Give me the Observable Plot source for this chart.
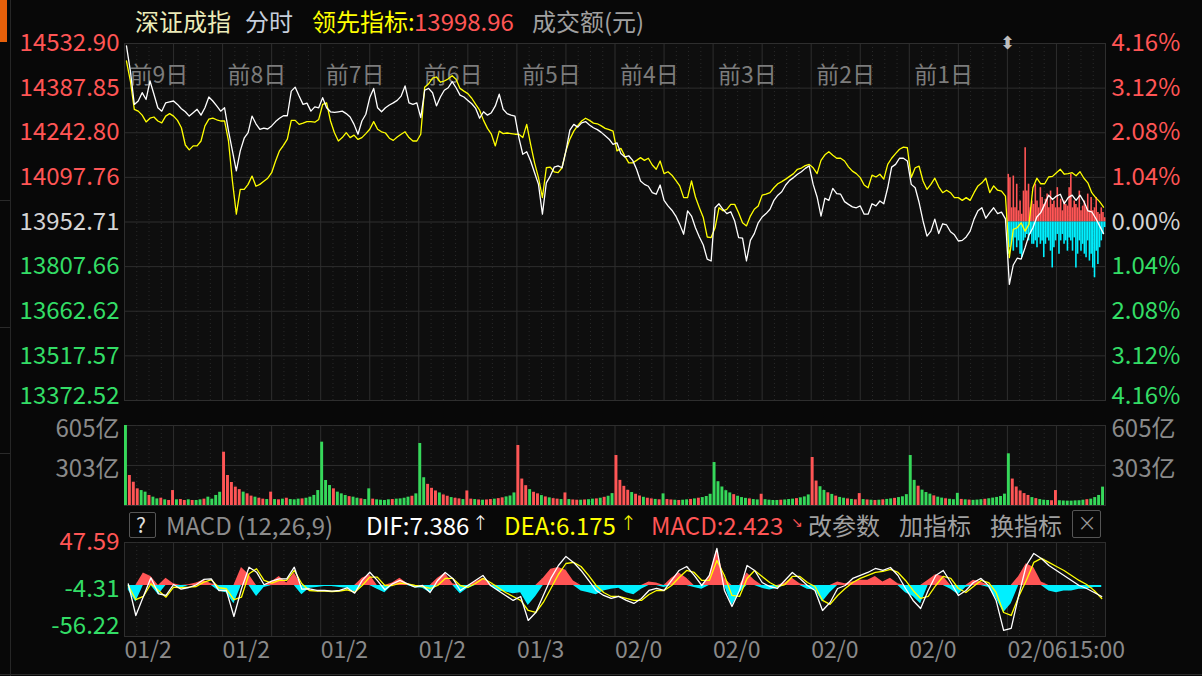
<!DOCTYPE html>
<html><head><meta charset="utf-8">
<script src="https://cdn.jsdelivr.net/npm/d3@7"></script>
<script src="https://cdn.jsdelivr.net/npm/@observablehq/plot@0.6"></script>
<style>
body{margin:0;background:#080808;}
#root{position:relative;width:1202px;height:676px;overflow:hidden;background:#080808;font-family:"Noto Sans CJK SC","Noto Sans",sans-serif;}
.t{position:absolute;white-space:nowrap;font-size:24px;line-height:1;}
.p{position:absolute;top:0;left:0;}
.d{position:absolute;}
</style></head><body><div id="root"></div>
<script>
// ---------- DATA ----------
const priceTicks = [14532.90, 14387.85, 14242.80, 14097.76, 13952.71, 13807.66, 13662.62, 13517.57, 13372.52];
const priceLabels = ["14532.90","14387.85","14242.80","14097.76","13952.71","13807.66","13662.62","13517.57","13372.52"];
const pctLabels = ["4.16%","3.12%","2.08%","1.04%","0.00%","1.04%","2.08%","3.12%","4.16%"];
const basePrice = 13952.71;
const dayNames = ["前9日","前8日","前7日","前6日","前5日","前4日","前3日","前2日","前1日"];
const dateLabels = ["01/2","01/2","01/2","01/2","01/3","02/0","02/0","02/0","02/0","02/0615:00"];
const volTicks = [605, 303];
const volLabels = ["605亿","303亿"];
const macdTicks = [47.59, -4.31, -56.22];
const macdLabels = ["47.59","-4.31","-56.22"];

// index price (white), 25 samples per day
const whiteLine = [
 14525,14443,14335,14346,14373,14351,14411,14368,14324,14313,14340,14343,14346,14335,14321,14311,14297,14308,14319,14300,14324,14359,14346,14330,14313,
 14324,14249,14184,14119,14184,14225,14243,14297,14272,14254,14258,14255,14265,14279,14290,14298,14298,14378,14391,14362,14335,14339,14313,14327,14324,
 14357,14324,14311,14309,14311,14313,14305,14294,14270,14238,14281,14303,14357,14387,14324,14311,14324,14333,14340,14348,14362,14395,14340,14335,14340,
 14292,14381,14387,14373,14330,14359,14381,14389,14409,14389,14365,14359,14348,14337,14322,14290,14311,14300,14308,14330,14368,14319,14305,14300,14297,
 14227,14173,14181,14151,14113,14075,13978,14080,14102,14131,14135,14129,14184,14251,14270,14261,14275,14279,14268,14259,14253,14244,14233,14222,14205,
 14210,14175,14164,14168,14153,14124,14086,14075,14069,14048,14043,14073,14023,14005,13991,13972,13945,13913,13989,13972,13934,13904,13878,13832,13826,
 13999,14012,13994,13980,13986,13956,13902,13900,13826,13893,13915,13950,13969,13980,13994,14023,14040,14051,14073,14088,14097,14108,14116,14127,14135,
 14075,14034,13972,14030,14023,14062,14045,14043,14019,14010,14002,13999,14005,13978,13978,14012,14005,14021,14012,14064,14131,14140,14160,14160,14151,
 14075,14064,14016,13956,13907,13923,13962,13915,13947,13943,13921,13911,13891,13893,13904,13923,13962,13989,13999,13965,13983,13999,13980,13985,13963,
 13750,13813,13835,13832,13869,13910,13934,13969,13983,14010,14040,14026,14037,14043,14012,14032,14040,14023,14040,14019,13989,13986,13965,13940,13915
];
// leading indicator (yellow)
const yellowLine = [
 14476,14411,14319,14313,14300,14278,14290,14294,14281,14275,14297,14305,14297,14283,14259,14203,14187,14200,14200,14216,14265,14287,14290,14285,14281,
 14281,14216,14086,13978,14059,14059,14075,14102,14069,14075,14085,14095,14113,14151,14184,14202,14222,14283,14283,14270,14274,14279,14279,14277,14286,
 14335,14340,14281,14243,14216,14227,14243,14227,14235,14221,14227,14240,14254,14279,14254,14246,14242,14225,14218,14229,14238,14246,14227,14216,14216,
 14238,14391,14402,14420,14424,14407,14411,14418,14428,14417,14387,14378,14370,14355,14335,14316,14283,14257,14238,14200,14248,14240,14242,14240,14238,
 14238,14227,14270,14205,14145,14097,14032,14129,14131,14116,14113,14129,14184,14222,14248,14266,14281,14290,14283,14274,14272,14265,14257,14253,14248,
 14184,14192,14167,14145,14145,14153,14162,14153,14160,14138,14124,14151,14110,14116,14105,14088,14070,14032,14032,14086,14034,13999,13967,13904,13902,
 13934,13999,13989,13994,14010,14010,13983,13950,13940,13972,13994,14005,14040,14043,14048,14064,14077,14084,14092,14101,14110,14124,14128,14136,14140,
 14129,14110,14153,14171,14181,14170,14160,14160,14151,14132,14118,14110,14097,14073,14064,14105,14099,14108,14092,14140,14160,14175,14189,14196,14194,
 14097,14129,14134,14086,14059,14075,14095,14067,14048,14056,14048,14032,14032,14023,14032,14023,14048,14070,14080,14095,14048,14070,14056,14053,14037,
 13837,13929,13934,13950,13923,13945,14064,14095,14077,14077,14099,14101,14113,14124,14108,14110,14113,14103,14116,14095,14080,14048,14032,14019,14001
];
// today's buy (red, up) and sell (cyan, down) strength bars, in % of the axis
const buyBars = [1.11,1.03,0.33,1.07,0.33,0.88,0.26,0.49,0.18,0.72,1.73,0.72,0.88,0.33,0.49,0.41,0.88,0.49,0.33,0.80,0.57,0.41,0.53,0.65,0.33,0.72,0.41,0.49,0.33,0.80,0.33,0.53,0.26,0.49,0.41,0.37,0.80,1.11,0.33,0.49,0.41,0.33,0.72,0.26,0.37,0.49,0.33,0.65,0.26,0.57,0.26,0.33,0.57,0.22,0.18,0.33,0.22,0.10];
const sellBars = [0.75,0.60,0.44,0.68,0.37,0.60,0.44,0.75,0.83,0.44,0.37,0.29,0.44,0.29,0.52,0.52,0.44,0.60,0.37,0.52,0.44,0.83,0.52,0.37,0.44,0.68,1.07,0.60,0.44,0.29,0.75,0.44,0.29,0.52,0.44,0.68,0.37,0.44,0.68,0.37,1.07,0.75,0.44,0.68,0.52,0.75,0.83,0.44,0.91,0.75,1.07,1.30,0.68,0.99,0.60,0.44,0.29,0.13];

// turnover (亿), 25 bars per day
const volume = [
 605,227,176,126,113,101,76,63,50,55,43,38,113,43,45,38,43,38,38,43,48,63,48,76,100,
 403,227,174,139,120,101,88,71,63,55,48,45,101,45,43,48,55,45,43,48,50,55,63,76,113,
 479,189,151,126,101,88,76,67,63,55,50,45,126,48,43,40,38,43,45,48,50,55,63,70,88,
 469,210,160,130,110,95,80,70,60,55,50,45,110,48,45,42,40,42,45,48,52,58,65,72,95,
 454,200,150,120,100,88,75,65,58,52,48,45,95,45,42,40,40,42,44,48,50,55,62,70,90,
 378,190,145,115,98,85,72,62,55,50,46,43,88,45,42,40,38,40,43,46,50,55,60,68,85,
 325,180,140,112,95,82,70,60,54,50,45,42,85,44,40,38,38,40,42,45,48,52,58,65,80,
 363,185,142,114,96,84,71,61,55,50,46,43,90,45,42,40,38,40,43,46,50,54,60,66,82,
 378,190,146,116,98,86,73,63,56,51,47,44,92,46,43,41,39,41,44,47,51,56,61,68,86,
 391,200,140,110,90,76,60,52,45,40,38,36,113,36,34,33,33,35,36,40,44,48,60,76,139
];
const volColors = [
 "grrrggrggrgrrgrrgrggrgggg","rrrrrgrrgrrgrgrgrgggrgggg","gggrgggrggrggrggggrggggrg",
 "ggrrrgrrgrrgrrgrgrrgrrggg","rrrgrrgrgrrgrgrrgrggrgrgg","rrrrgrrgrrgrgrrgrggrgrggg",
 "gggggrgggrggrggggrgggrggg","rrggrgrggrgrrgrgrgrggrggg","ggrgggrggrgggrgrgggrggggg",
 "grrrrrgrgggrrgggggggrgggg"
];

// MACD: 13 samples per day
const dif = [
 1.8,-33.0,-12.0,8.6,-9.0,-10.9,1.2,-4.0,-2.1,0.9,6.8,7.5,-5.4,
 -5.4,-34.1,-3.5,20.3,14.8,0.9,4.9,7.5,7.5,20.3,-4.0,-3.5,-5.4,
 -5.4,-6.2,-5.4,-2.4,-8.3,5.7,14.8,5.7,-4.6,2.0,5.7,2.0,-1.8,
 0.1,-7.6,5.7,14.5,7.9,-5.4,0.1,5.7,11.2,0.1,-5.4,-10.9,-16.4,
 -12.0,-38.5,-29.7,-10.9,7.9,22.2,32.2,25.6,16.7,5.7,-5.4,-10.9,-14.2,
 -12.0,-16.4,-19.7,-14.2,-5.4,-3.2,-5.4,5.7,16.7,21.1,11.2,0.1,11.2,
 41.0,-5.4,-23.1,-5.4,22.2,16.7,3.4,-1.0,-3.2,5.7,14.5,7.9,0.1,
 -5.4,-27.5,-18.6,-3.2,0.1,7.9,11.2,14.5,18.9,16.7,20.0,11.2,-3.2,
 -16.4,-25.3,-5.4,11.2,16.7,3.4,-10.9,-5.4,3.4,7.9,0.1,-16.4,-49.5,
 -47.3,-10.9,22.2,35.5,30.0,22.2,16.7,11.2,5.7,0.1,-3.2,-7.6,-12.0
];
const dea = [
 0.1,-15.6,-12.0,2.0,-5.4,-12.8,-1.8,-2.4,-1.8,-1.0,3.8,6.4,-2.4,
 -3.5,-15.6,-12.8,13.0,18.6,5.7,2.7,5.7,5.7,16.7,2.0,-5.4,-6.2,
 -6.2,-6.5,-6.2,-4.6,-7.3,0.1,9.3,9.3,0.1,0.1,2.7,2.0,0.1,
 -1.0,-3.2,0.1,7.9,7.9,0.1,-2.1,2.3,7.9,3.4,-2.1,-7.6,-12.0,
 -16.4,-27.5,-29.7,-18.6,-3.2,12.3,24.4,25.6,21.1,11.2,0.1,-7.6,-12.0,
 -12.0,-14.2,-16.4,-16.4,-9.8,-5.4,-5.4,0.1,9.0,16.7,14.5,5.7,5.7,
 27.7,11.2,-10.9,-12.0,7.9,16.7,10.1,3.4,-1.0,1.2,10.1,10.1,3.4,
 -1.0,-16.4,-20.8,-10.9,-3.2,3.4,7.9,11.2,14.5,15.6,17.8,14.5,5.7,
 -5.4,-14.2,-12.0,0.1,10.1,7.9,-3.2,-7.6,-1.0,5.7,3.4,-7.6,-29.7,
 -33.0,-12.0,5.7,25.6,30.0,25.6,21.1,16.7,11.2,5.7,1.2,-5.4,-14.2
];
const macdHist = [
 -5,-18,14,10,-10,8,2,-3,1,3,6,2,-6,
 -8,-20,20,12,-12,-2,4,10,3,14,-10,-3,-2,
 -1,-1,-2,-3,-7,8,12,-4,-8,3,8,2,-2,
 -3,-8,8,14,2,-9,-3,4,8,1,-6,-7,-9,
 -8,-22,-12,8,18,20,17,5,-6,-8,-10,-6,-4,
 -3,-8,-10,-4,4,3,-2,8,14,8,-2,-4,10,
 40,8,-22,-8,14,6,-3,-5,-3,3,8,2,-4,
 -5,-18,-8,4,2,4,6,6,10,4,8,2,-8,
 -12,-20,6,12,10,-4,-10,-2,6,4,-2,-14,-30,
 -20,10,24,20,4,-6,-8,-6,-6,-4,-4,-2,-2
];

// ---------- STYLE ----------
const FONT = '"Noto Sans CJK SC","Noto Sans",sans-serif';
const RED = "#ff5555", GREEN = "#33dd66", VGREEN = "#36d85a", CYAN = "#00f0ff", GRID = "#2e2e2e", GRAY = "#8a8a8a";
const BG = "#0e0e0e";
const FS = 24;

// ---------- TABLES ----------
const N = 25;
const linePts = whiteLine.map((w, i) => ({x: Math.floor(i / N) + ((i % N) + 0.5) / N, white: w, yellow: yellowLine[i]}));
const volPts = volume.map((v, i) => {
  const d = Math.floor(i / N), k = i % N;
  return {x1: d + k / N, x2: d + (k + 1) / N, v, c: (volColors[d][k] || "g") === "r" ? RED : VGREEN};
});
const buyPts = buyBars.map((h, i) => ({x: 9 + (i + 0.5) / buyBars.length, y2: basePrice * (1 + h / 100)}));
const sellPts = sellBars.map((h, i) => ({x: 9 + (i + 0.5) / sellBars.length, y2: basePrice * (1 - h / 100)}));
const M = 13;
const macdPts = dif.map((v, i) => ({x: Math.floor(i / M) + ((i % M) + 0.5) / M, dif: v, dea: dea[i], h: macdHist[i]}));

const halfDays = d3.range(0, 10.01, 0.5);
const minor = [];
for (let d = 0; d < 10; d++) for (const j of [1, 2, 3, 5, 6, 7]) minor.push(d + j / 8);
const grid = () => [
  Plot.ruleX(minor, {stroke: "#2a2a2a", strokeDasharray: "1,3"}),
  Plot.ruleX(halfDays, {stroke: GRID})
];
const common = {
  width: 1202, marginLeft: 124, marginRight: 97,
  x: {domain: [0, 10], axis: null},
  style: {background: "transparent", fontFamily: FONT, overflow: "visible"}
};
const tickColor = i => i < 4 ? RED : i === 4 ? "#d4d4d4" : GREEN;

// ---------- MAIN PRICE PANEL ----------
const main = Plot.plot({
  ...common, height: 412, marginTop: 43, marginBottom: 12,
  y: {domain: [priceTicks[8], priceTicks[0]], axis: null},
  marks: [
    Plot.frame({fill: BG, stroke: GRID}),
    ...grid(),
    Plot.ruleY(priceTicks, {stroke: GRID}),
    Plot.text(dayNames, {x: (d, i) => i, frameAnchor: "top", dy: 23, dx: 5, textAnchor: "start", fill: "#7c7c7c", fontSize: 23}),
    Plot.ruleX(buyPts, {x: "x", y1: basePrice, y2: "y2", stroke: RED, strokeWidth: 1.6}),
    Plot.ruleX(sellPts, {x: "x", y1: basePrice, y2: "y2", stroke: CYAN, strokeWidth: 1.6}),
    Plot.line(linePts, {x: "x", y: "yellow", stroke: "#ffff00", strokeWidth: 1.3}),
    Plot.line(linePts, {x: "x", y: "white", stroke: "#ffffff", strokeWidth: 1.3}),
    Plot.text(priceLabels.slice(0, 8), {y: (d, i) => priceTicks[i], frameAnchor: "left", dx: -5, textAnchor: "end", fill: (d, i) => tickColor(i), fontSize: FS}),
    Plot.text(priceLabels.slice(8), {y: priceTicks.slice(8), frameAnchor: "left", dx: -5, dy: -4, textAnchor: "end", fill: GREEN, fontSize: FS}),
    Plot.text(pctLabels.slice(0, 8), {y: (d, i) => priceTicks[i], frameAnchor: "right", dx: 6, textAnchor: "start", fill: (d, i) => tickColor(i), fontSize: FS}),
    Plot.text(pctLabels.slice(8), {y: priceTicks.slice(8), frameAnchor: "right", dx: 6, dy: -4, textAnchor: "start", fill: GREEN, fontSize: FS})
  ]
});

// ---------- VOLUME PANEL ----------
const vol = Plot.plot({
  ...common, height: 98, marginTop: 13, marginBottom: 5,
  y: {domain: [0, 605], axis: null},
  marks: [
    Plot.frame({fill: BG, stroke: GRID}),
    ...grid(),
    Plot.ruleY([303], {stroke: GRID}),
    Plot.rectY(volPts, {x1: "x1", x2: "x2", y: "v", fill: "c", insetRight: 1}),
    Plot.text(volLabels, {y: (d, i) => volTicks[i], frameAnchor: "left", dx: -5, dy: 4, textAnchor: "end", fill: GRAY, fontSize: FS}),
    Plot.text(volLabels, {y: (d, i) => volTicks[i], frameAnchor: "right", dx: 6, dy: 4, textAnchor: "start", fill: GRAY, fontSize: FS})
  ]
});

// ---------- MACD PANEL ----------
const macd = Plot.plot({
  ...common, height: 146, marginTop: 12, marginBottom: 40,
  y: {domain: [-56.22, 47.59], axis: null},
  marks: [
    Plot.frame({fill: BG, stroke: GRID}),
    ...grid(),
    Plot.areaY(macdPts, {x: "x", y: d => Math.max(0, d.h), fill: RED}),
    Plot.areaY(macdPts, {x: "x", y: d => Math.min(0, d.h), fill: CYAN}),
    Plot.line(macdPts, {x: "x", y: "dea", stroke: "#ffff00", strokeWidth: 1.3}),
    Plot.line(macdPts, {x: "x", y: "dif", stroke: "#ffffff", strokeWidth: 1.3}),
    Plot.text(macdLabels.slice(0, 2), {y: (d, i) => macdTicks[i], frameAnchor: "left", dx: -5, textAnchor: "end", fill: (d, i) => i === 0 ? RED : GREEN, fontSize: FS}),
    Plot.text(macdLabels.slice(2), {y: macdTicks.slice(2), frameAnchor: "left", dx: -5, dy: -10, textAnchor: "end", fill: GREEN, fontSize: FS}),
    Plot.text(dateLabels, {x: (d, i) => i, frameAnchor: "bottom", dy: 21, textAnchor: "start", fill: GRAY, fontSize: 23})
  ]
});

// ---------- ASSEMBLE ----------
const root = document.getElementById("root");
function place(node, top) { const w = document.createElement("div"); w.className = "p"; w.style.top = top + "px"; w.appendChild(node); root.appendChild(w); }
place(main, 0); place(vol, 412); place(macd, 530);

function txt(s, left, top, color, size = 24, extra = "") {
  const e = document.createElement("div"); e.className = "t"; e.textContent = s;
  e.style.cssText += `left:${left}px;top:${top}px;color:${color};font-size:${size}px;${extra}`;
  root.appendChild(e); return e;
}
function box(left, top, w, h, css) {
  const e = document.createElement("div"); e.className = "d";
  e.style.cssText = `left:${left}px;top:${top}px;width:${w}px;height:${h}px;${css}`;
  root.appendChild(e); return e;
}
// left decorations
box(0, 0, 7, 42, "background:#e8600a");
box(10, 0, 1, 676, "background:#262626");
for (const y of [200, 327, 453]) box(0, y, 10, 1, "background:#2a2a2a");
box(0, 674, 1202, 1, "background:#2a2a2a");

// title row
txt("深证成指", 135, 9, "#ecebb8");
txt("分时", 245, 9, "#c6cedc");
txt("领先指标:", 312, 9, "#ffff00");
txt("13998.96", 414, 9, RED);
txt("成交额(元)", 532, 9, "#a0a0a0");
txt("⬍", 1000, 32, "#bdbdbd", 18);

// MACD header row
box(129, 512, 27, 26, "border:1px solid #555;border-radius:2px;box-sizing:border-box");
txt("?", 136, 514, "#e0e0e0", 21);
txt("MACD (12,26,9)", 166, 513, "#8c8c8c");
txt("DIF:7.386", 366, 513, "#ffffff");
txt("↑", 472, 513, "#ffffff", 20, "font-family:'DejaVu Sans';font-weight:200");
txt("DEA:6.175", 504, 513, "#ffff00");
txt("↑", 620, 513, "#ffff00", 20, "font-family:'DejaVu Sans';font-weight:200");
txt("MACD:2.423", 651, 513, RED);
txt("↘", 791, 515, RED, 14, "font-family:'DejaVu Sans'");
txt("改参数", 808, 513, "#a0a0a0");
txt("加指标", 899, 513, "#a0a0a0");
txt("换指标", 990, 513, "#a0a0a0");
box(1072, 510, 29, 28, "border:1px solid #555;border-radius:2px;box-sizing:border-box");
txt("×", 1077, 511, "#9a9a9a", 24, "font-family:'DejaVu Sans';font-weight:200");
</script></body></html>
